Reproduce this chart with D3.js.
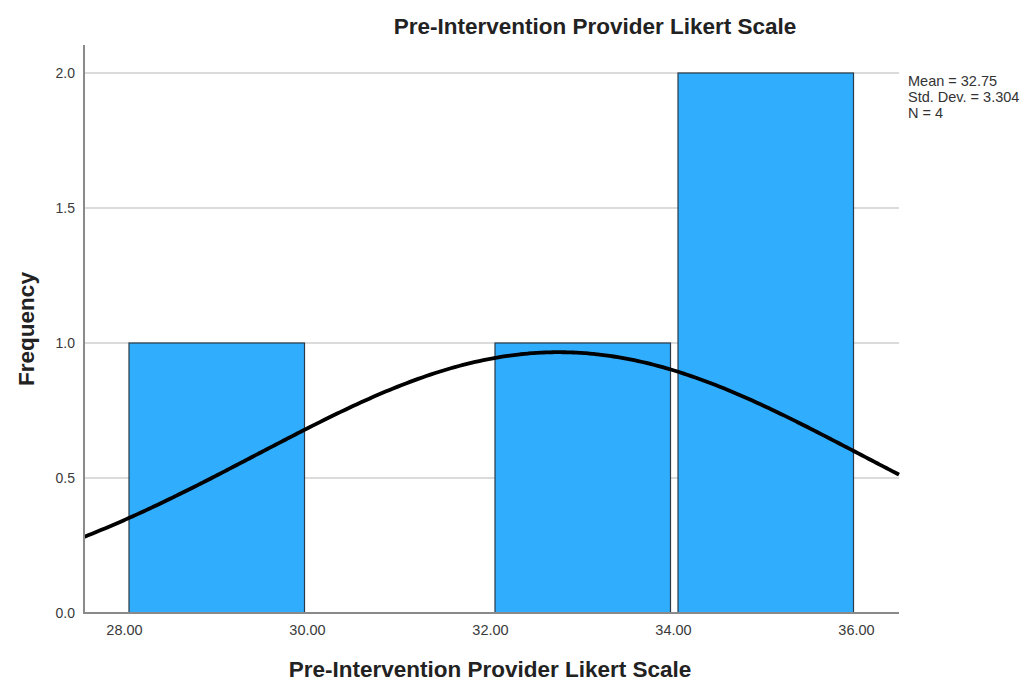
<!DOCTYPE html>
<html>
<head>
<meta charset="utf-8">
<script src="https://cdn.jsdelivr.net/npm/d3@7"></script>
<style>
  body { margin: 0; background: #fff; }
  svg text { font-family: "Liberation Sans", Arial, sans-serif; }
</style>
</head>
<body>
<svg id="chart" width="1031" height="681"></svg>
<script>
// Histogram bins (lower edge, upper edge) and their counts
const binLower = [28, 32, 34];
const binUpper = [30, 34, 36];
const counts = [1, 1, 2];

// Summary statistics shown beside the plot
const meanValue = 32.75;
const stdDev = 3.304;
const nValue = 4;

const xTicks = [28, 30, 32, 34, 36];
const yTicks = [0, 0.5, 1.0, 1.5, 2.0];

const svg = d3.select("#chart");

const plotLeft = 84, plotRight = 899, plotBottom = 613, plotTop = 45;

// x scale: 28 -> 124, 36 -> 856
const x = d3.scaleLinear().domain([28, 36]).range([124, 856]);
const xMin = x.invert(plotLeft), xMax = x.invert(plotRight);
const y = d3.scaleLinear().domain([0, 2]).range([plotBottom, 73]);

// grid lines
svg.append("g").selectAll("line").data(yTicks.filter(d => d > 0)).join("line")
  .attr("x1", plotLeft).attr("x2", plotRight)
  .attr("y1", d => y(d)).attr("y2", d => y(d))
  .attr("stroke", "#cfcfcf").attr("stroke-width", 1.5);

// bars
const bins = counts.map((c, i) => ({ lo: binLower[i], hi: binUpper[i], c }));
svg.append("g").selectAll("rect").data(bins).join("rect")
  .attr("x", d => x(d.lo) + 5)
  .attr("width", d => x(d.hi) - x(d.lo) - 7.5)
  .attr("y", d => y(d.c))
  .attr("height", d => y(0) - y(d.c))
  .attr("fill", "#30adfd")
  .attr("stroke", "#2a3a48")
  .attr("stroke-width", 1.2);

// normal curve scaled to counts (N * bin width * pdf)
const binWidth = 2;
const pdf = v => Math.exp(-0.5 * Math.pow((v - meanValue) / stdDev, 2)) / (stdDev * Math.sqrt(2 * Math.PI));
const curvePts = d3.range(0, 201).map(i => {
  const v = xMin + (xMax - xMin) * i / 200;
  return [v, nValue * binWidth * pdf(v)];
});
svg.append("path")
  .datum(curvePts)
  .attr("d", d3.line().x(d => x(d[0])).y(d => y(d[1])).curve(d3.curveBasis))
  .attr("fill", "none")
  .attr("stroke", "#000")
  .attr("stroke-width", 3.8);

// axes
const xAxis = d3.axisBottom(x).tickValues(xTicks).tickFormat(d3.format(".2f")).tickSize(0).tickPadding(12);
const gx = svg.append("g").attr("transform", `translate(0,${plotBottom})`).call(xAxis);
gx.select(".domain").remove();
gx.selectAll("text").attr("font-size", 14.5).attr("fill", "#3a3a3a");

const yAxis = d3.axisLeft(y).tickValues(yTicks).tickFormat(d3.format(".1f")).tickSize(0).tickPadding(9);
const gy = svg.append("g").attr("transform", `translate(${plotLeft},0)`).call(yAxis);
gy.select(".domain").remove();
gy.selectAll("text").attr("font-size", 14).attr("fill", "#3a3a3a");

svg.append("line").attr("x1", plotLeft).attr("x2", plotLeft).attr("y1", plotTop).attr("y2", plotBottom + 1)
  .attr("stroke", "#8a8a8a").attr("stroke-width", 2);
svg.append("line").attr("x1", plotLeft - 1).attr("x2", plotRight).attr("y1", plotBottom).attr("y2", plotBottom)
  .attr("stroke", "#8a8a8a").attr("stroke-width", 2);

// titles
svg.append("text").attr("x", 595).attr("y", 34).attr("text-anchor", "middle")
  .attr("font-size", 22.5).attr("font-weight", "bold").attr("fill", "#222")
  .text("Pre-Intervention Provider Likert Scale");
svg.append("text").attr("x", 490).attr("y", 677).attr("text-anchor", "middle")
  .attr("font-size", 22.5).attr("font-weight", "bold").attr("fill", "#222")
  .text("Pre-Intervention Provider Likert Scale");
svg.append("text").attr("transform", "translate(34,329) rotate(-90)").attr("text-anchor", "middle")
  .attr("font-size", 22.5).attr("font-weight", "bold").attr("fill", "#222")
  .text("Frequency");

// statistics
const stats = [`Mean = ${meanValue}`, `Std. Dev. = ${stdDev}`, `N = ${nValue}`];
svg.append("g").selectAll("text").data(stats).join("text")
  .attr("x", 908).attr("y", (d, i) => 86 + i * 16)
  .attr("font-size", 14.5).attr("fill", "#333")
  .text(d => d);
</script>
</body>
</html>
